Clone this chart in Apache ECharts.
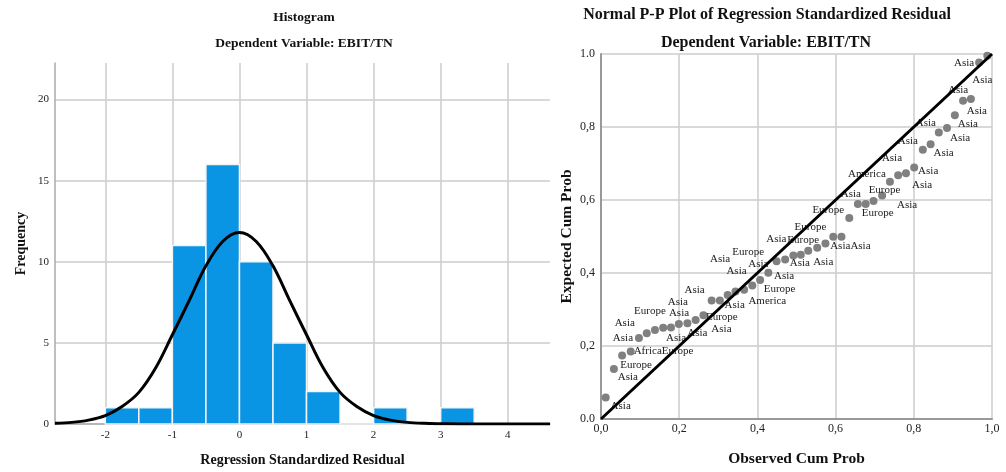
<!DOCTYPE html>
<html>
<head>
<meta charset="utf-8">
<script src="https://cdn.jsdelivr.net/npm/echarts@6/dist/echarts.min.js"></script>
<style>
html,body{margin:0;padding:0;background:#fff;}
#chart{width:1006px;height:472px;}
</style>
</head>
<body>
<div id="chart"></div>
<script>
// ---------- Histogram data ----------
const binEdges = [-2, -1.5, -1, -0.5, 0, 0.5, 1, 1.5, 2, 2.5, 3, 3.5];
const binCounts = [1, 1, 11, 16, 10, 5, 2, 0, 1, 0, 1];
const curveX = [-2.75, -2.5, -2.25, -2, -1.75, -1.5, -1.25, -1, -0.75, -0.5, -0.25, 0, 0.25, 0.5, 0.75, 1, 1.25, 1.5, 1.75, 2, 2.25, 2.5, 2.75, 3, 3.5, 4, 4.63];
const curveY = [0.05, 0.1, 0.24, 0.52, 1.08, 1.95, 3.45, 5.5, 7.6, 9.75, 11.25, 11.8, 11.25, 9.75, 7.6, 5.5, 3.45, 1.95, 1.08, 0.52, 0.24, 0.1, 0.04, 0.02, 0, 0, 0];
const histXTicks = [-2, -1, 0, 1, 2, 3, 4];
const histYTicks = [0, 5, 10, 15, 20];

// ---------- P-P plot data ----------
const observedCum = [0.012, 0.033, 0.054, 0.076, 0.097, 0.117, 0.138, 0.159, 0.179, 0.199, 0.221, 0.242, 0.262, 0.283, 0.304, 0.324,
  0.344, 0.366, 0.387, 0.407, 0.428, 0.449, 0.471, 0.492, 0.511, 0.530, 0.553, 0.574, 0.594, 0.615, 0.635, 0.657,
  0.677, 0.697, 0.719, 0.739, 0.760, 0.780, 0.801, 0.823, 0.843, 0.864, 0.885, 0.905, 0.926, 0.946, 0.967, 0.988];
const expectedCum = [0.059, 0.137, 0.174, 0.185, 0.222, 0.235, 0.244, 0.250, 0.251, 0.260, 0.262, 0.271, 0.284, 0.325, 0.325, 0.340,
  0.349, 0.354, 0.366, 0.381, 0.401, 0.432, 0.437, 0.448, 0.450, 0.461, 0.469, 0.481, 0.499, 0.499, 0.551, 0.589,
  0.589, 0.597, 0.612, 0.650, 0.668, 0.673, 0.689, 0.738, 0.753, 0.785, 0.797, 0.832, 0.872, 0.877, 0.977, 0.995];
const regions = ['Asia','Asia','Europe','Africa','Asia','Asia','Europe','Asia','Asia','Asia','Asia','Europe','Asia','Asia','Europe','Asia',
  'Asia','Asia','America','Europe','Asia','Europe','Asia','Asia','Asia','Europe','Asia','Europe','Asia','Asia','Europe','Asia',
  'Europe','Europe','Asia','America','Asia','Asia','Asia','Asia','Asia','Asia','Asia','Asia','Asia','Asia','Asia','Asia'];
const diagonal = [0, 1];
const ppXTicks = ['0,0', '0,2', '0,4', '0,6', '0,8', '1,0'];
const ppYTicks = ['0.0', '0,2', '0,4', '0,6', '0,8', '1.0'];

// label placement (layout only, pixels relative to each point)
const labelShift = [[15,9],[14,8],[14,10],[17,0],[-16,0],[-22,-10],[-5,-19],[13,10],[8,-14],[-1,-22],[10,10],[-18,31],[18,14],[-17,-10],[2,17],[7,10],
  [1,-21],[-24,-31],[15,16],[-12,-28],[-10,-9],[3,28],[-1,17],[-17,-16],[-1,8],[-5,-11],[6,14],[-15,-16],[7,9],[19,9],[-21,-8],[-7,-10],
  [12,9],[11,-11],[25,9],[-23,-8],[24,10],[-14,-15],[14,4],[-15,-9],[13,9],[-13,-9],[13,10],[13,9],[-5,-11],[6,12],[-15,1],[-5,24]];

const SERIF = '"Liberation Serif", "DejaVu Serif", serif';
const gridColor = '#cccccc';

const histData = binCounts.map((c, i) => [binEdges[i], binEdges[i + 1], c]);
const curveData = curveX.map((x, i) => [x, curveY[i]]);
const ppData = observedCum.map((x, i) => ({
  value: [x, expectedCum[i]],
  label: { offset: labelShift[i] }
}));

const chart = echarts.init(document.getElementById('chart'), null, { renderer: 'canvas' });

chart.setOption({
  animation: false,
  backgroundColor: '#fff',
  graphic: [
    { type: 'text', x: 304, y: 18, style: { text: 'Histogram', font: 'bold 13.5px ' + SERIF, fill: '#111', textAlign: 'center', textVerticalAlign: 'middle' } },
    { type: 'text', x: 304, y: 44, style: { text: 'Dependent Variable: EBIT/TN', font: 'bold 13.5px ' + SERIF, fill: '#111', textAlign: 'center', textVerticalAlign: 'middle' } },
    { type: 'text', x: 767, y: 15, style: { text: 'Normal P-P Plot of Regression Standardized Residual', font: 'bold 16px ' + SERIF, fill: '#111', textAlign: 'center', textVerticalAlign: 'middle' } },
    { type: 'text', x: 766, y: 43, style: { text: 'Dependent Variable: EBIT/TN', font: 'bold 16px ' + SERIF, fill: '#111', textAlign: 'center', textVerticalAlign: 'middle' } }
  ],
  grid: [
    { left: 55, right: 456, top: 63, bottom: 46 },
    { left: 601, right: 14, top: 54, bottom: 48 }
  ],
  xAxis: [
    {
      gridIndex: 0, type: 'value', min: -2.75, max: 4.63,
      name: 'Regression Standardized Residual', nameLocation: 'middle', nameGap: 29,
      nameTextStyle: { fontFamily: SERIF, fontWeight: 'bold', fontSize: 14, color: '#111' },
      axisLine: { show: true, onZero: false, lineStyle: { color: '#aaa', width: 1.5 } },
      axisTick: { show: false, customValues: histXTicks },
      axisLabel: { customValues: histXTicks, fontFamily: SERIF, fontSize: 11, color: '#222', margin: 6 },
      splitLine: { show: true, lineStyle: { color: gridColor, width: 1.5 } }
    },
    {
      gridIndex: 1, type: 'value', min: 0, max: 1, interval: 0.2,
      name: 'Observed Cum Prob', nameLocation: 'middle', nameGap: 32,
      nameTextStyle: { fontFamily: SERIF, fontWeight: 'bold', fontSize: 15.5, color: '#111' },
      axisLine: { show: true, onZero: false, lineStyle: { color: '#999', width: 2 } },
      axisTick: { show: false },
      axisLabel: { fontFamily: SERIF, fontSize: 12, color: '#222', margin: 4,
        formatter: (v) => ppXTicks[Math.round(v / 0.2)] },
      splitLine: { show: true, lineStyle: { color: gridColor, width: 1.5 } }
    }
  ],
  yAxis: [
    {
      gridIndex: 0, type: 'value', min: 0, max: 22.25,
      name: 'Frequency', nameLocation: 'middle', nameGap: 27,
      nameTextStyle: { fontFamily: SERIF, fontWeight: 'bold', fontSize: 14, color: '#111' },
      axisLine: { show: true, onZero: false, lineStyle: { color: '#aaa', width: 1.5 } },
      axisTick: { show: false, customValues: histYTicks },
      axisLabel: { customValues: histYTicks, fontFamily: SERIF, fontSize: 11, color: '#222', margin: 6 },
      splitLine: { show: true, lineStyle: { color: gridColor, width: 1.5 } }
    },
    {
      gridIndex: 1, type: 'value', min: 0, max: 1, interval: 0.2,
      name: 'Expected Cum Prob', nameLocation: 'middle', nameGap: 26,
      nameTextStyle: { fontFamily: SERIF, fontWeight: 'bold', fontSize: 15.5, color: '#111' },
      axisLine: { show: true, onZero: false, lineStyle: { color: '#999', width: 2 } },
      axisTick: { show: false },
      axisLabel: { fontFamily: SERIF, fontSize: 12, color: '#222', margin: 6,
        formatter: (v) => ppYTicks[Math.round(v / 0.2)] },
      splitLine: { show: true, lineStyle: { color: gridColor, width: 1.5 } }
    }
  ],
  series: [
    {
      type: 'custom', xAxisIndex: 0, yAxisIndex: 0, data: histData, z: 2,
      encode: { x: [0, 1], y: 2 },
      renderItem: function (params, api) {
        const p0 = api.coord([api.value(0), api.value(2)]);
        const p1 = api.coord([api.value(1), 0]);
        return {
          type: 'rect',
          shape: { x: p0[0], y: p0[1], width: p1[0] - p0[0], height: p1[1] - p0[1] },
          style: { fill: '#0a94e4', stroke: '#f4f4f4', lineWidth: 1.5 }
        };
      }
    },
    {
      type: 'line', xAxisIndex: 0, yAxisIndex: 0, data: curveData, smooth: 0.35, z: 5,
      showSymbol: false, symbol: 'none',
      lineStyle: { color: '#000', width: 3 }
    },
    {
      type: 'scatter', xAxisIndex: 1, yAxisIndex: 1, data: ppData, z: 3,
      symbolSize: 8,
      itemStyle: { color: '#808080', opacity: 1 },
      label: {
        show: true, position: 'inside',
        formatter: (p) => regions[p.dataIndex],
        fontFamily: SERIF, fontSize: 11, color: '#222'
      }
    },
    {
      type: 'line', xAxisIndex: 1, yAxisIndex: 1, z: 6,
      data: [[diagonal[0], diagonal[0]], [diagonal[1], diagonal[1]]],
      showSymbol: false, symbol: 'none',
      lineStyle: { color: '#000', width: 3 }
    }
  ]
});
</script>
</body>
</html>
